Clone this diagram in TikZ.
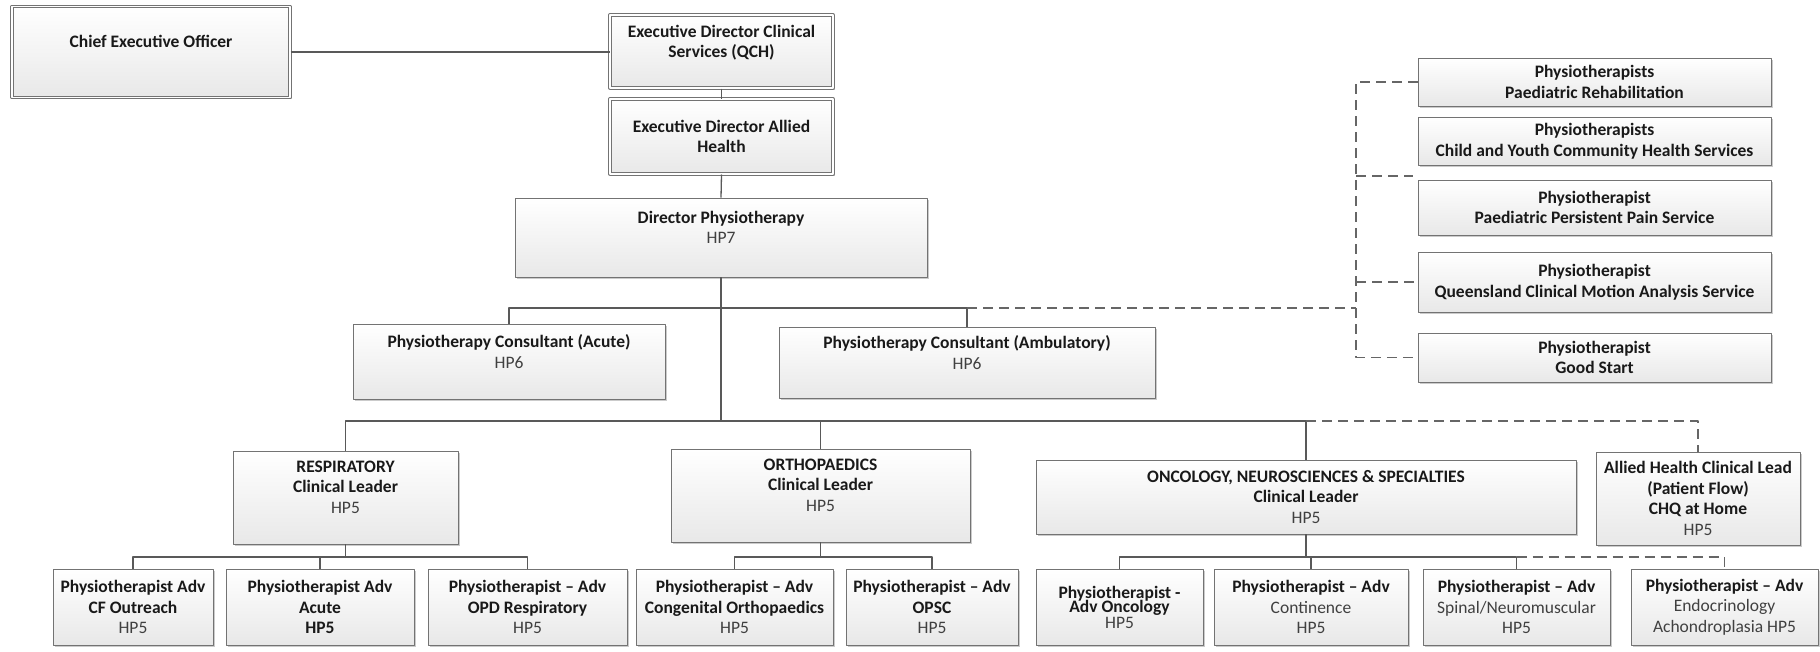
\documentclass[tikz,border=0pt]{standalone}
\usepackage{fontspec}
\setmainfont{Carlito}
\usetikzlibrary{shadows}
\newcommand\grade[1]{{\mdseries\color{black!75}#1}}
\begin{document}
\begin{tikzpicture}[x=1pt, y=-1pt, line join=round,
	font=\fontsize{17.5}{20.5}\selectfont\bfseries,
	sz/.style 2 args={minimum width=#1pt, minimum height=#2pt},
	box/.style={draw=black!55, line width=0.9pt, top color=white, bottom color=black!9,
		drop shadow={shadow xshift=1.5pt, shadow yshift=-1.5pt, fill=black!45, opacity=0.45},
		align=center, inner sep=1pt, text=black!90},
	dbox/.style={box, double=white, double distance=1.3pt, line width=1pt},
	conn/.style={draw=black!65, line width=1.3pt},
	dconn/.style={draw=black!60, line width=1.6pt, dash pattern=on 10pt off 6pt}]
	\useasboundingbox (0,0) rectangle (1820,651);
	%bus lines
	\coordinate (cbus) at (0,308);
	\coordinate (lbus) at (0,421);
	\coordinate (sbus) at (0,557);
	\coordinate (trunk) at (1356,0);
	\coordinate (stub) at (1413,176);
	%top
	\node[dbox, sz={278}{91}] (ceo) at (151,52) {Chief Executive Officer\\\mbox{}};
	\node[dbox, sz={223}{73}] (edcs) at (721.5,51.5) {Executive Director Clinical\\Services (QCH)\\\mbox{}};
	\node[dbox, sz={223}{75}] (edah) at (721.5,136.5) {Executive Director Allied\\Health};
	\node[box, sz={412}{79}] (dir) at (721,237.5) {Director Physiotherapy\\\grade{HP7}\\\mbox{}};
	\node[box, sz={312}{75}] (cacute) at (509,361.5) {Physiotherapy Consultant (Acute)\\\grade{HP6}\\\mbox{}};
	\node[box, sz={376}{71}] (camb) at (967,362.5) {Physiotherapy Consultant (Ambulatory)\\\grade{HP6}\\\mbox{}};
	%right column
	\node[box, sz={353}{48}] (rehab) at (1594.5,82) {Physiotherapists\\Paediatric Rehabilitation};
	\node[box, sz={353}{48}] (cyc) at (1594.5,141) {Physiotherapists\\Child and Youth Community Health Services};
	\node[box, sz={353}{55}] (pain) at (1594.5,207.5) {Physiotherapist\\Paediatric Persistent Pain Service};
	\node[box, sz={353}{60}] (motion) at (1594.5,282) {Physiotherapist\\Queensland Clinical Motion Analysis Service};
	\node[box, sz={353}{49}] (goodstart) at (1594.5,357.5) {Physiotherapist\\Good Start};
	%clinical leaders
	\node[box, sz={225}{93}] (resp) at (345.5,497.5) {RESPIRATORY\\Clinical Leader\\\grade{HP5}\\\mbox{}};
	\node[box, sz={299}{93}] (ortho) at (820.5,495.5) {ORTHOPAEDICS\\Clinical Leader\\\grade{HP5}\\\mbox{}};
	\node[box, sz={540}{74}] (onc) at (1306,497) {ONCOLOGY, NEUROSCIENCES \& SPECIALTIES\\Clinical Leader\\\grade{HP5}};
	\node[box, sz={204}{93}] (ahcl) at (1698,498.5) {Allied Health Clinical Lead\\(Patient Flow)\\CHQ at Home\\\grade{HP5}};
	%advanced
	\node[box, sz={160}{76}] (cf) at (133,607) {Physiotherapist Adv\\CF Outreach\\\grade{HP5}};
	\node[box, sz={188}{76}] (acute) at (320,607) {Physiotherapist Adv\\Acute\\HP5};
	\node[box, sz={199}{76}] (opd) at (527.5,607) {Physiotherapist – Adv\\OPD Respiratory\\\grade{HP5}};
	\node[box, sz={197}{76}] (cong) at (734.5,607) {Physiotherapist – Adv\\Congenital Orthopaedics\\\grade{HP5}};
	\node[box, sz={172}{76}] (opsc) at (932,607) {Physiotherapist – Adv\\OPSC\\\grade{HP5}};
	\node[box, sz={167}{76}] (oncadv) at (1119.5,607) {Physiotherapist -\\[-6pt]Adv Oncology\\[-5pt]\grade{HP5}};
	\node[box, sz={194}{76}] (cont) at (1311,607) {Physiotherapist – Adv\\\grade{Continence}\\\grade{HP5}};
	\node[box, sz={187}{76}] (spinal) at (1516.5,607) {Physiotherapist – Adv\\\grade{Spinal/Neuromuscular}\\\grade{HP5}};
	\node[box, sz={187}{76}] (endo) at (1724.5,607) {Physiotherapist – Adv\\\grade{Endocrinology}\\\grade{Achondroplasia HP5}};
	%connectors
	\draw[conn] (ceo.east) -- (ceo.east -| edcs.west);
	\draw[conn] (edcs.south) -- (edah.north);
	\draw[conn] (edah.south) -- (dir.north);
	\draw[conn] (dir.south) -- (dir.south |- lbus);
	\draw[conn] (cacute.north) |- (camb.north |- cbus) -- (camb.north);
	\draw[dconn] (camb.north |- cbus) -- (trunk |- cbus);
	\draw[dconn] (rehab.west) -| (trunk |- goodstart.west) -- (goodstart.west);
	\draw[dconn] (trunk |- motion.west) -- (motion.west);
	\draw[dconn] (trunk |- stub) -- (stub);
	\draw[conn] (resp.north) |- (onc.north |- lbus) -- (onc.north);
	\draw[conn] (ortho.north) -- (ortho.north |- lbus);
	\draw[dconn] (onc.north |- lbus) -| (ahcl.north);
	%sub teams
	\foreach \lead in {resp,ortho,onc}
		\draw[conn] (\lead.south) -- (\lead.south |- sbus);
	\draw[conn] (cf.north) |- (opd.north |- sbus) -- (opd.north);
	\draw[conn] (acute.north) -- (acute.north |- sbus);
	\draw[conn] (cong.north) |- (opsc.north |- sbus) -- (opsc.north);
	\draw[conn] (oncadv.north) |- (spinal.north |- sbus) -- (spinal.north);
	\draw[conn] (cont.north) -- (cont.north |- sbus);
	\draw[dconn] (spinal.north |- sbus) -| (endo.north);
\end{tikzpicture}
\end{document}
